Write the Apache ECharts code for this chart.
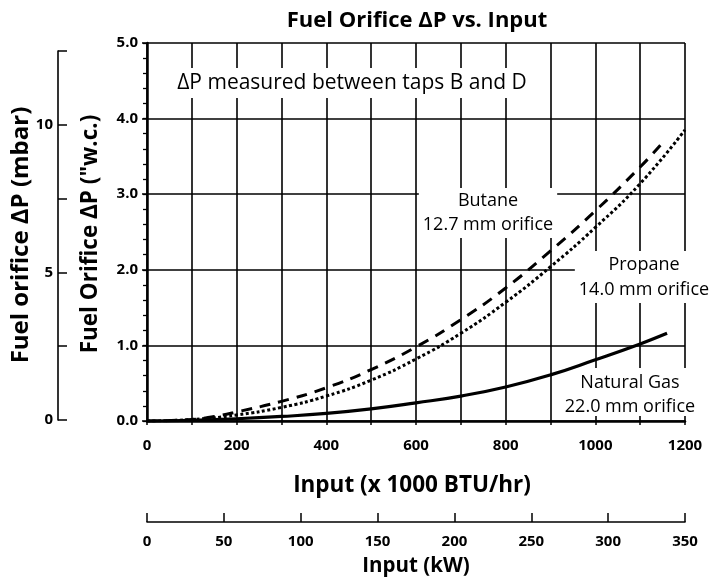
<!DOCTYPE html>
<html><head><meta charset="utf-8">
<script src="https://cdn.jsdelivr.net/npm/echarts@6/dist/echarts.min.js"></script>
<style>html,body{margin:0;padding:0;background:#fff}#c{width:713px;height:581px}</style>
</head><body><div id="c"></div>
<script>
// Input in 1000 BTU/hr, ΔP in inches w.c.
const butaneInput  = [0, 100, 150, 200, 300, 400, 500, 600, 700, 800, 900, 1000, 1100, 1150];
const butaneDP     = [0, 0.02, 0.06, 0.12, 0.26, 0.44, 0.68, 0.98, 1.34, 1.76, 2.25, 2.78, 3.36, 3.68];
const propaneInput = [0, 100, 200, 300, 400, 500, 600, 700, 800, 900, 1000, 1100, 1200];
const propaneDP    = [0, 0.02, 0.08, 0.18, 0.33, 0.54, 0.82, 1.16, 1.57, 2.04, 2.56, 3.14, 3.85];
const natgasInput  = [0, 100, 200, 300, 400, 500, 600, 700, 800, 900, 1000, 1100, 1160];
const natgasDP     = [0, 0.01, 0.03, 0.06, 0.10, 0.16, 0.24, 0.33, 0.45, 0.61, 0.81, 1.02, 1.16];
const wcTicks   = [0, 1, 2, 3, 4, 5];
const mbarTicks = [0, 5, 10];
const btuTicks  = [0, 200, 400, 600, 800, 1000, 1200];
const kwTicks   = [0, 50, 100, 150, 200, 250, 300, 350];

const pairs = (xs, ys) => xs.map((x, i) => [x, ys[i]]);
const FONT = '"Open Sans", "Noto Sans", sans-serif';
const chart = echarts.init(document.getElementById('c'));

function txt(text, x, y, size, bold, extra) {
  return Object.assign({
    type: 'text', x: x, y: y, z: 1,
    style: {
      text: text, fill: '#000',
      font: (bold ? 'bold ' : '') + size + 'px ' + FONT,
      align: 'center', verticalAlign: 'middle',
      textAlign: 'center', textVerticalAlign: 'middle'
    }
  }, extra || {});
}
function boxTxt(text, x, y, size, lh, pad) {
  const t = txt(text, x, y, size, false);
  t.style.backgroundColor = '#fff';
  t.style.padding = pad || [3, 4];
  t.style.lineHeight = lh;
  return t;
}
const labelStyle = { color: '#000', fontFamily: FONT, fontWeight: 'bold', fontSize: 15 };

chart.setOption({
  animation: false,
  backgroundColor: '#fff',
  grid: [
    { left: 147, top: 43, width: 538, height: 378 },
    { left: 58, top: 51, width: 1, height: 369 },
    { left: 147, top: 521, width: 538, height: 1 }
  ],
  xAxis: [
    { type: 'value', gridIndex: 0, min: 0, max: 1200, interval: 100, position: 'bottom',
      axisLine: { show: true, onZero: false, lineStyle: { color: '#000', width: 2.5 } },
      axisTick: { show: true, length: 4, lineStyle: { color: '#000', width: 1.5 } },
      axisLabel: Object.assign({ margin: 17,
        formatter: v => btuTicks.indexOf(v) >= 0 ? String(v) : '' }, labelStyle),
      splitLine: { show: true, lineStyle: { color: '#000', width: 1.6 } } },
    { type: 'value', gridIndex: 1, min: 0, max: 1, show: false },
    { type: 'value', gridIndex: 2, min: 0, max: 350, interval: 50, position: 'bottom',
      axisLine: { show: true, onZero: false, lineStyle: { color: '#000', width: 1.6 } },
      axisTick: { show: true, inside: true, length: 9, lineStyle: { color: '#000', width: 1.5 } },
      axisLabel: Object.assign({ margin: 12,
        formatter: v => kwTicks.indexOf(v) >= 0 ? String(v) : '' }, labelStyle),
      splitLine: { show: false } }
  ],
  yAxis: [
    { type: 'value', gridIndex: 0, min: 0, max: 5, interval: 1,
      axisLine: { show: true, onZero: false, lineStyle: { color: '#000', width: 2.5 } },
      axisTick: { show: true, length: 5, lineStyle: { color: '#000', width: 1.5 } },
      axisLabel: Object.assign({ margin: 9,
        formatter: v => wcTicks.indexOf(v) >= 0 ? v.toFixed(1) : '' }, labelStyle),
      splitLine: { show: true, lineStyle: { color: '#000', width: 1.6 } } },
    { type: 'value', gridIndex: 0, min: 0, max: 5, interval: 0.2,
      axisLine: { show: false },
      axisTick: { show: true, inside: true, length: 4, lineStyle: { color: '#000', width: 1.3 } },
      axisLabel: { show: false }, splitLine: { show: false } },
    { type: 'value', gridIndex: 1, min: 0, max: 12.5, interval: 2.5,
      axisLine: { show: true, onZero: false, lineStyle: { color: '#000', width: 1.6 } },
      axisTick: { show: true, inside: true, length: 9, lineStyle: { color: '#000', width: 1.5 } },
      axisLabel: Object.assign({ margin: 5,
        formatter: v => mbarTicks.indexOf(v) >= 0 ? String(v) : '' }, labelStyle),
      splitLine: { show: false } },
    { type: 'value', gridIndex: 2, min: 0, max: 1, show: false }
  ],
  series: [
    { name: 'Butane', type: 'line', xAxisIndex: 0, yAxisIndex: 0, smooth: 0.5,
      showSymbol: false, data: pairs(butaneInput, butaneDP),
      lineStyle: { color: '#000', width: 3, type: [11, 8] } },
    { name: 'Propane', type: 'line', xAxisIndex: 0, yAxisIndex: 0, smooth: 0.5,
      showSymbol: false, data: pairs(propaneInput, propaneDP),
      lineStyle: { color: '#000', width: 3, type: [3, 2.5] } },
    { name: 'Natural Gas', type: 'line', xAxisIndex: 0, yAxisIndex: 0, smooth: 0.5,
      showSymbol: false, data: pairs(natgasInput, natgasDP),
      lineStyle: { color: '#000', width: 3.2, type: 'solid' } }
  ],
  graphic: [
    txt('Fuel Orifice ΔP vs. Input', 417, 21, 22, true),
    boxTxt('ΔP measured between taps B and D', 352, 83, 21, 26, [2, 4]),
    boxTxt('Butane\n12.7 mm orifice', 488, 213, 18, 24, [1, 4]),
    boxTxt('Propane\n14.0 mm orifice', 644, 277, 18, 25, [1, 4]),
    boxTxt('Natural Gas', 630, 383, 18, 30, [0, 12]),
    boxTxt('22.0 mm orifice', 630, 407, 18, 18, [0, 4]),
    txt('Fuel Orifice ΔP ("w.c.)', 91, 234, 22.5, true, { rotation: Math.PI / 2 }),
    txt('Fuel orifice ΔP (mbar)', 21, 235, 24, true, { rotation: Math.PI / 2 }),
    txt('Input (x 1000 BTU/hr)', 412, 486, 22.5, true),
    txt('Input (kW)', 416, 566, 20.5, true)
  ]
});
</script></body></html>
